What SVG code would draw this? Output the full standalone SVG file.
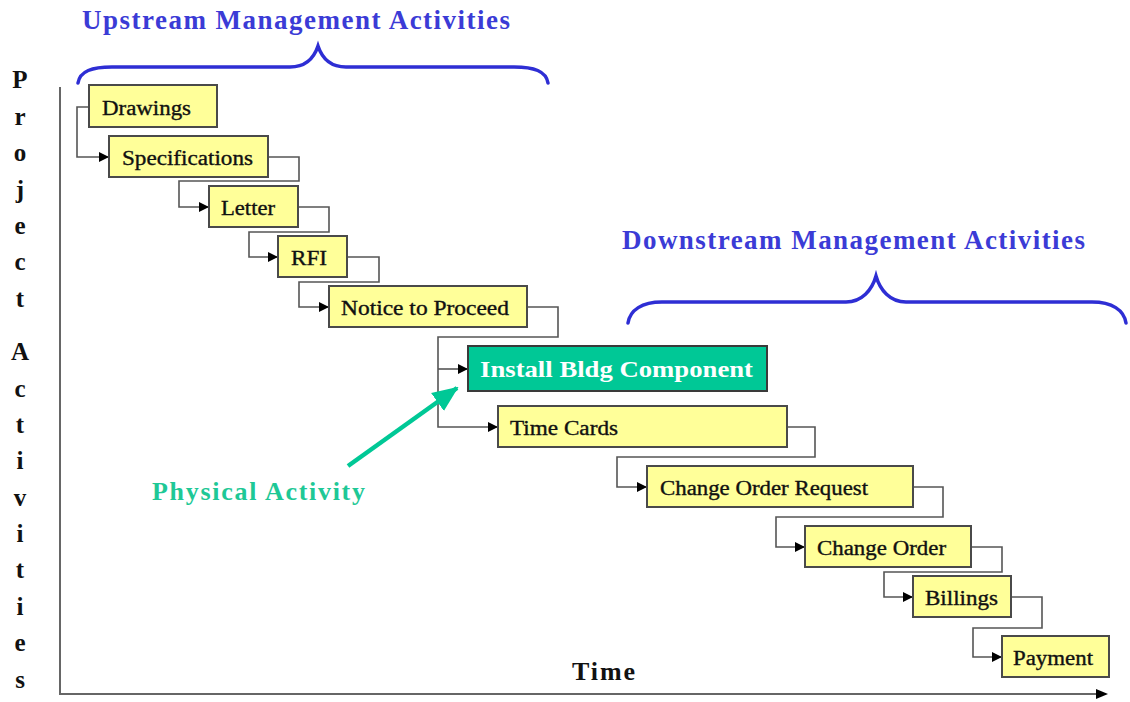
<svg xmlns="http://www.w3.org/2000/svg" width="1130" height="702" viewBox="0 0 1130 702">
<style>
  .box{fill:#ffff99;stroke:#4a4a4a;stroke-width:2}
  .green{fill:#00c896;stroke:#3a3a3a;stroke-width:2}
  .bt{font-family:"Liberation Serif","Times New Roman",serif;font-size:20px;fill:#111;stroke:#111;stroke-width:0.35}
  .conn{fill:none;stroke:#555;stroke-width:1.6}
  .ax{fill:none;stroke:#666;stroke-width:2}
  .brace{fill:none;stroke:#2e2ed4;stroke-width:3.5;stroke-linecap:round}
  .title{font-family:"Liberation Serif","Times New Roman",serif;font-size:27px;font-weight:bold;fill:#3b3bd6}
  .yl{font-family:"Liberation Serif","Times New Roman",serif;font-size:25px;font-weight:bold;fill:#111;text-anchor:middle}
</style>
<defs>
  <marker id="ah" markerWidth="10" markerHeight="10" refX="9" refY="5" orient="auto" markerUnits="userSpaceOnUse">
    <path d="M0,0 L10,5 L0,10 Z" fill="#000"/>
  </marker>
  <marker id="gh" markerWidth="26" markerHeight="26" refX="24" refY="13" orient="auto" markerUnits="userSpaceOnUse">
    <path d="M0,2 L26,13 L0,24 Z" fill="#00c896"/>
  </marker>
</defs>
<rect width="1130" height="702" fill="#fff"/>

<g id="titles">
  <text class="title" x="82" y="29" textLength="428" lengthAdjust="spacing">Upstream Management Activities</text>
  <path class="brace" d="M78,83 C80,71 92,67 112,67 L290,67 C306,67 314,58 318,46 C322,58 330,67 346,67 L514,67 C534,67 546,71 548,83"/>
  <text class="title" x="622" y="249" textLength="463" lengthAdjust="spacing">Downstream Management Activities</text>
  <path class="brace" d="M628,323 C630,310 642,302 662,302 L846,302 C862,302 872,290 876,276 C880,290 890,302 906,302 L1092,302 C1112,302 1124,310 1126,323"/>
</g>

<g id="axes">
  <path class="ax" d="M60,87 L60,694 L1098,694"/>
  <path d="M1096,689 L1108,694 L1096,699 Z" fill="#000"/>
  <g id="ylabel">
    <text class="yl" x="20" y="88">P</text>
    <text class="yl" x="20" y="125">r</text>
    <text class="yl" x="20" y="161">o</text>
    <text class="yl" x="20" y="198">j</text>
    <text class="yl" x="20" y="234">e</text>
    <text class="yl" x="20" y="270">c</text>
    <text class="yl" x="20" y="307">t</text>
    <text class="yl" x="20" y="360">A</text>
    <text class="yl" x="20" y="397">c</text>
    <text class="yl" x="20" y="433">t</text>
    <text class="yl" x="20" y="469">i</text>
    <text class="yl" x="20" y="506">v</text>
    <text class="yl" x="20" y="542">i</text>
    <text class="yl" x="20" y="578">t</text>
    <text class="yl" x="20" y="615">i</text>
    <text class="yl" x="20" y="651">e</text>
    <text class="yl" x="20" y="688">s</text>
  </g>
  <text id="xlabel" x="572" y="680" font-family="Liberation Serif, Times New Roman, serif" font-size="26" font-weight="bold" fill="#111" textLength="63" lengthAdjust="spacing">Time</text>
</g>

<g id="connectors">
  <path class="conn" d="M89,107 L77,107 L77,157 L108,157" marker-end="url(#ah)"/>
  <path class="conn" d="M268,157 L299,157 L299,181 L179,181 L179,207 L208,207" marker-end="url(#ah)"/>
  <path class="conn" d="M298,207 L329,207 L329,232 L249,232 L249,257 L277,257" marker-end="url(#ah)"/>
  <path class="conn" d="M347,257 L379,257 L379,282 L299,282 L299,307 L328,307" marker-end="url(#ah)"/>
  <path class="conn" d="M527,307 L558,307 L558,337 L438,337 L438,427 L497,427" marker-end="url(#ah)"/>
  <path class="conn" d="M438,369 L467,369" marker-end="url(#ah)"/>
  <path class="conn" d="M787,427 L815,427 L815,457 L617,457 L617,487 L646,487" marker-end="url(#ah)"/>
  <path class="conn" d="M913,487 L943,487 L943,517 L776,517 L776,547 L804,547" marker-end="url(#ah)"/>
  <path class="conn" d="M971,547 L1002,547 L1002,572 L884,572 L884,597 L912,597" marker-end="url(#ah)"/>
  <path class="conn" d="M1011,597 L1042,597 L1042,628 L973,628 L973,657 L1001,657" marker-end="url(#ah)"/>
  <path d="M348,466 L457,388" fill="none" stroke="#00c896" stroke-width="4.5" marker-end="url(#gh)"/>
</g>

<g id="n-drawings"><rect class="box" x="89" y="85" width="128" height="42"/><text class="bt" x="102" y="115" textLength="89" lengthAdjust="spacingAndGlyphs">Drawings</text></g>
<g id="n-specifications"><rect class="box" x="109" y="136" width="159" height="41"/><text class="bt" x="122" y="165" textLength="131" lengthAdjust="spacingAndGlyphs">Specifications</text></g>
<g id="n-letter"><rect class="box" x="209" y="186" width="89" height="41"/><text class="bt" x="221" y="215" textLength="54" lengthAdjust="spacingAndGlyphs">Letter</text></g>
<g id="n-rfi"><rect class="box" x="278" y="236" width="69" height="41"/><text class="bt" x="291" y="265" textLength="36" lengthAdjust="spacingAndGlyphs">RFI</text></g>
<g id="n-ntp"><rect class="box" x="329" y="286" width="198" height="41"/><text class="bt" x="341" y="315" textLength="168" lengthAdjust="spacingAndGlyphs">Notice to Proceed</text></g>
<g id="n-install"><rect class="green" x="468" y="346" width="299" height="45"/><text x="480" y="377" font-family="Liberation Serif, Times New Roman, serif" font-size="23" font-weight="bold" fill="#fff" textLength="273" lengthAdjust="spacingAndGlyphs">Install Bldg Component</text></g>
<g id="n-timecards"><rect class="box" x="498" y="406" width="289" height="41"/><text class="bt" x="510" y="435" textLength="108" lengthAdjust="spacingAndGlyphs">Time Cards</text></g>
<g id="n-cor"><rect class="box" x="647" y="466" width="266" height="41"/><text class="bt" x="660" y="495" textLength="208" lengthAdjust="spacingAndGlyphs">Change Order Request</text></g>
<g id="n-co"><rect class="box" x="805" y="526" width="166" height="41"/><text class="bt" x="817" y="555" textLength="129" lengthAdjust="spacingAndGlyphs">Change Order</text></g>
<g id="n-billings"><rect class="box" x="913" y="576" width="98" height="41"/><text class="bt" x="925" y="605" textLength="73" lengthAdjust="spacingAndGlyphs">Billings</text></g>
<g id="n-payment"><rect class="box" x="1002" y="636" width="107" height="41"/><text class="bt" x="1013" y="665" textLength="80" lengthAdjust="spacingAndGlyphs">Payment</text></g>

<g id="physical-activity">
  <text x="152" y="500" font-family="Liberation Serif, Times New Roman, serif" font-size="26" font-weight="bold" fill="#1ec896" textLength="213" lengthAdjust="spacing">Physical Activity</text>
</g>
</svg>
